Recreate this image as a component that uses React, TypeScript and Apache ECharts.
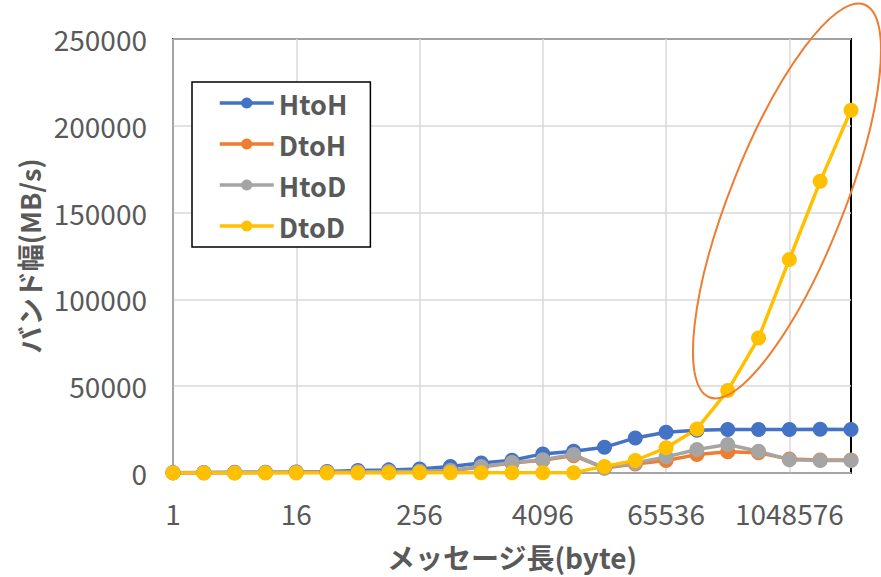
import React, { useEffect, useRef } from "react";
import * as echarts from "echarts";

const categories = [
  "1", "2", "4", "8", "16", "32", "64", "128", "256", "512", "1024", "2048",
  "4096", "8192", "16384", "32768", "65536", "131072", "262144", "524288",
  "1048576", "2097152", "4194304",
];

const seriesNames = ["HtoH", "DtoH", "HtoD", "DtoD"];
const seriesColors = ["#4472C4", "#ED7D31", "#A5A5A5", "#FFC000"];

const htoh = [200, 300, 400, 500, 600, 800, 1500, 1800, 2300, 3800, 5800, 7300, 11000, 12500, 14800, 20200, 23500, 24600, 25000, 25000, 25000, 25200, 25000];
const dtoh = [100, 150, 200, 300, 400, 500, 600, 700, 900, 1300, 3500, 5800, 7300, 10000, 2800, 5200, 7200, 10600, 12200, 11600, 8000, 7500, 7500];
const htod = [100, 150, 200, 300, 400, 500, 600, 800, 1000, 1500, 3800, 6100, 7700, 10600, 3000, 5800, 9300, 13500, 16400, 12500, 7700, 7200, 7200];
const dtod = [20, 20, 30, 30, 40, 50, 60, 70, 80, 90, 100, 120, 150, 200, 3800, 7200, 14500, 25400, 47500, 77700, 123000, 168000, 209000];

const yMin = 0;
const yMax = 250000;
const yInterval = 50000;

const xTitle = "メッセージ長(byte)";
const yTitle = "バンド幅(MB/s)";

const FONT = "'Noto Sans CJK JP', 'Noto Sans', sans-serif";
const TEXT = "#595959";

export default function App() {
  const ref = useRef<HTMLDivElement>(null);
  useEffect(() => {
    if (!ref.current) return;
    const chart = echarts.init(ref.current, null, { renderer: "svg" });
    const values = [htoh, dtoh, htod, dtod];
    chart.setOption({
      animation: false,
      backgroundColor: "#ffffff",
      textStyle: { fontFamily: FONT },
      grid: {
        left: 173,
        right: 30,
        top: 39,
        bottom: 104,
        show: true,
        borderColor: "#000000",
        borderWidth: 2,
        backgroundColor: "transparent",
      },
      legend: {
        orient: "vertical",
        left: 192,
        top: 82,
        width: 178,
        backgroundColor: "#ffffff",
        borderColor: "#000000",
        borderWidth: 1.5,
        padding: [6, 23, 6, 26],
        itemWidth: 54,
        itemHeight: 14,
        itemGap: 11,
        lineStyle: { width: 3.5 },
        textStyle: { fontSize: 27, fontWeight: "bold", color: TEXT, fontFamily: FONT, lineHeight: 30 },
        data: seriesNames,
      },
      xAxis: {
        type: "category",
        data: categories,
        boundaryGap: false,
        name: xTitle,
        nameLocation: "middle",
        nameGap: 70,
        nameTextStyle: { fontSize: 28, fontWeight: "bold", color: TEXT, fontFamily: FONT },
        axisLine: { show: true, lineStyle: { color: "#A6A6A6", width: 1.5 } },
        axisTick: { show: false },
        axisLabel: { interval: 3, margin: 26, fontSize: 28, color: TEXT, fontFamily: FONT },
        splitLine: { show: true, interval: 3, lineStyle: { color: "#D9D9D9", width: 1.5 } },
      },
      yAxis: {
        type: "value",
        min: yMin,
        max: yMax,
        interval: yInterval,
        name: yTitle,
        nameLocation: "middle",
        nameGap: 127,
        nameRotate: 90,
        nameTextStyle: { fontSize: 27, fontWeight: "bold", color: TEXT, fontFamily: FONT },
        axisLine: { show: true, lineStyle: { color: "#A6A6A6", width: 1.5 } },
        axisTick: { show: false },
        axisLabel: {
          margin: 26,
          fontSize: 28,
          color: TEXT,
          fontFamily: FONT,
          formatter: (v: number) => String(v),
        },
        splitLine: { show: true, lineStyle: { color: "#D9D9D9", width: 1.5 } },
      },
      series: seriesNames.map((name, i) => ({
        name,
        type: "line",
        data: values[i],
        symbol: "circle",
        symbolSize: 15,
        showSymbol: true,
        color: seriesColors[i],
        itemStyle: { color: seriesColors[i] },
        lineStyle: { color: seriesColors[i], width: 3.5 },
        emphasis: { disabled: true },
      })),
      graphic: [
        {
          type: "ellipse",
          x: 787,
          y: 201,
          rotation: -0.377,
          shape: { cx: 0, cy: 0, rx: 57, ry: 211 },
          style: { fill: "none", stroke: "#ED7D31", lineWidth: 2 },
          z: 100,
        },
      ],
    });
    return () => chart.dispose();
  }, []);
  return (
    <div
      ref={ref}
      style={{ position: "fixed", left: 0, top: 0, width: 881, height: 577 }}
    />
  );
}
